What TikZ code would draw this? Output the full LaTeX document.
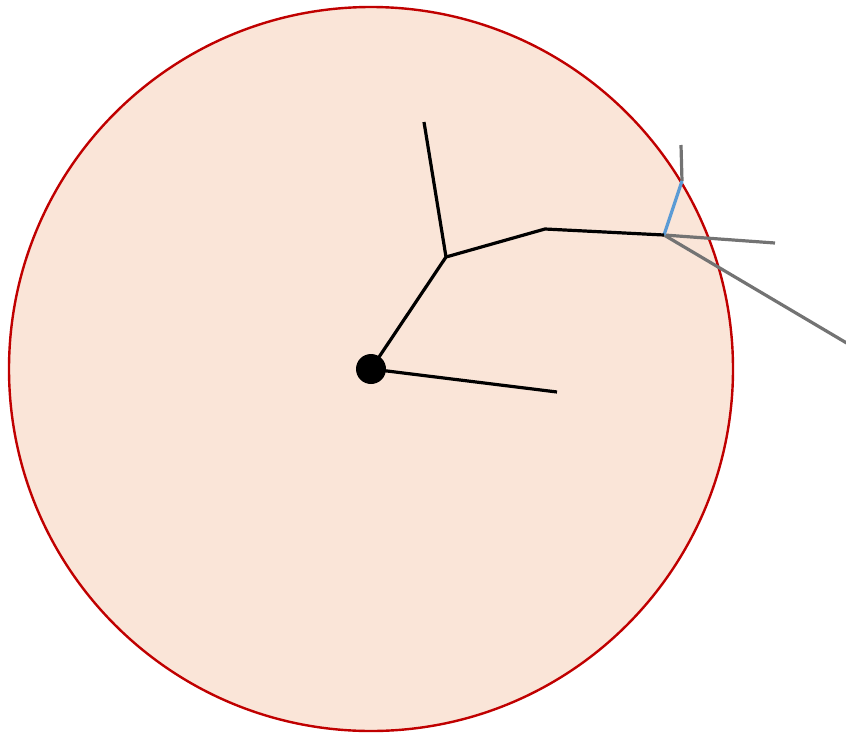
\documentclass[tikz,border=0pt]{standalone}
\definecolor{peach}{HTML}{FAE5D8}
\definecolor{redline}{HTML}{C00000}
\definecolor{blueline}{HTML}{5B9BD5}
\definecolor{grayline}{HTML}{737373}
\tikzset{
  blk/.style={black, line width=3.2pt},
  gry/.style={grayline, line width=3.2pt},
  blu/.style={blueline, line width=3.2pt},
}
\begin{document}
\begin{tikzpicture}[x=1pt,y=-1pt]
\useasboundingbox (0,0) rectangle (846,737);
\draw[redline, fill=peach, line width=2.4pt] (371,369) circle [radius=362];
\coordinate (c) at (371,369);
\coordinate (b1) at (446,257);
\coordinate (t1) at (424,122);
\coordinate (b2) at (545,229);
\coordinate (b3) at (664,235);
\coordinate (r1) at (557,392);
\coordinate (b4) at (682,181);
\coordinate (g1) at (681,145);
\coordinate (g2) at (775,243);
\coordinate (g3) at (850,345);
\draw[gry] (b4) -- (g1);
\draw[gry] (b3) -- (g2);
\draw[gry] (b3) -- (g3);
\draw[blu] (b3) -- (b4);
\draw[blk, line join=round] (c) -- (b1) -- (b2) -- (b3);
\draw[blk] (b1) -- (t1);
\draw[blk] (c) -- (r1);
\fill[black] (c) circle [radius=15];
\end{tikzpicture}
\end{document}
